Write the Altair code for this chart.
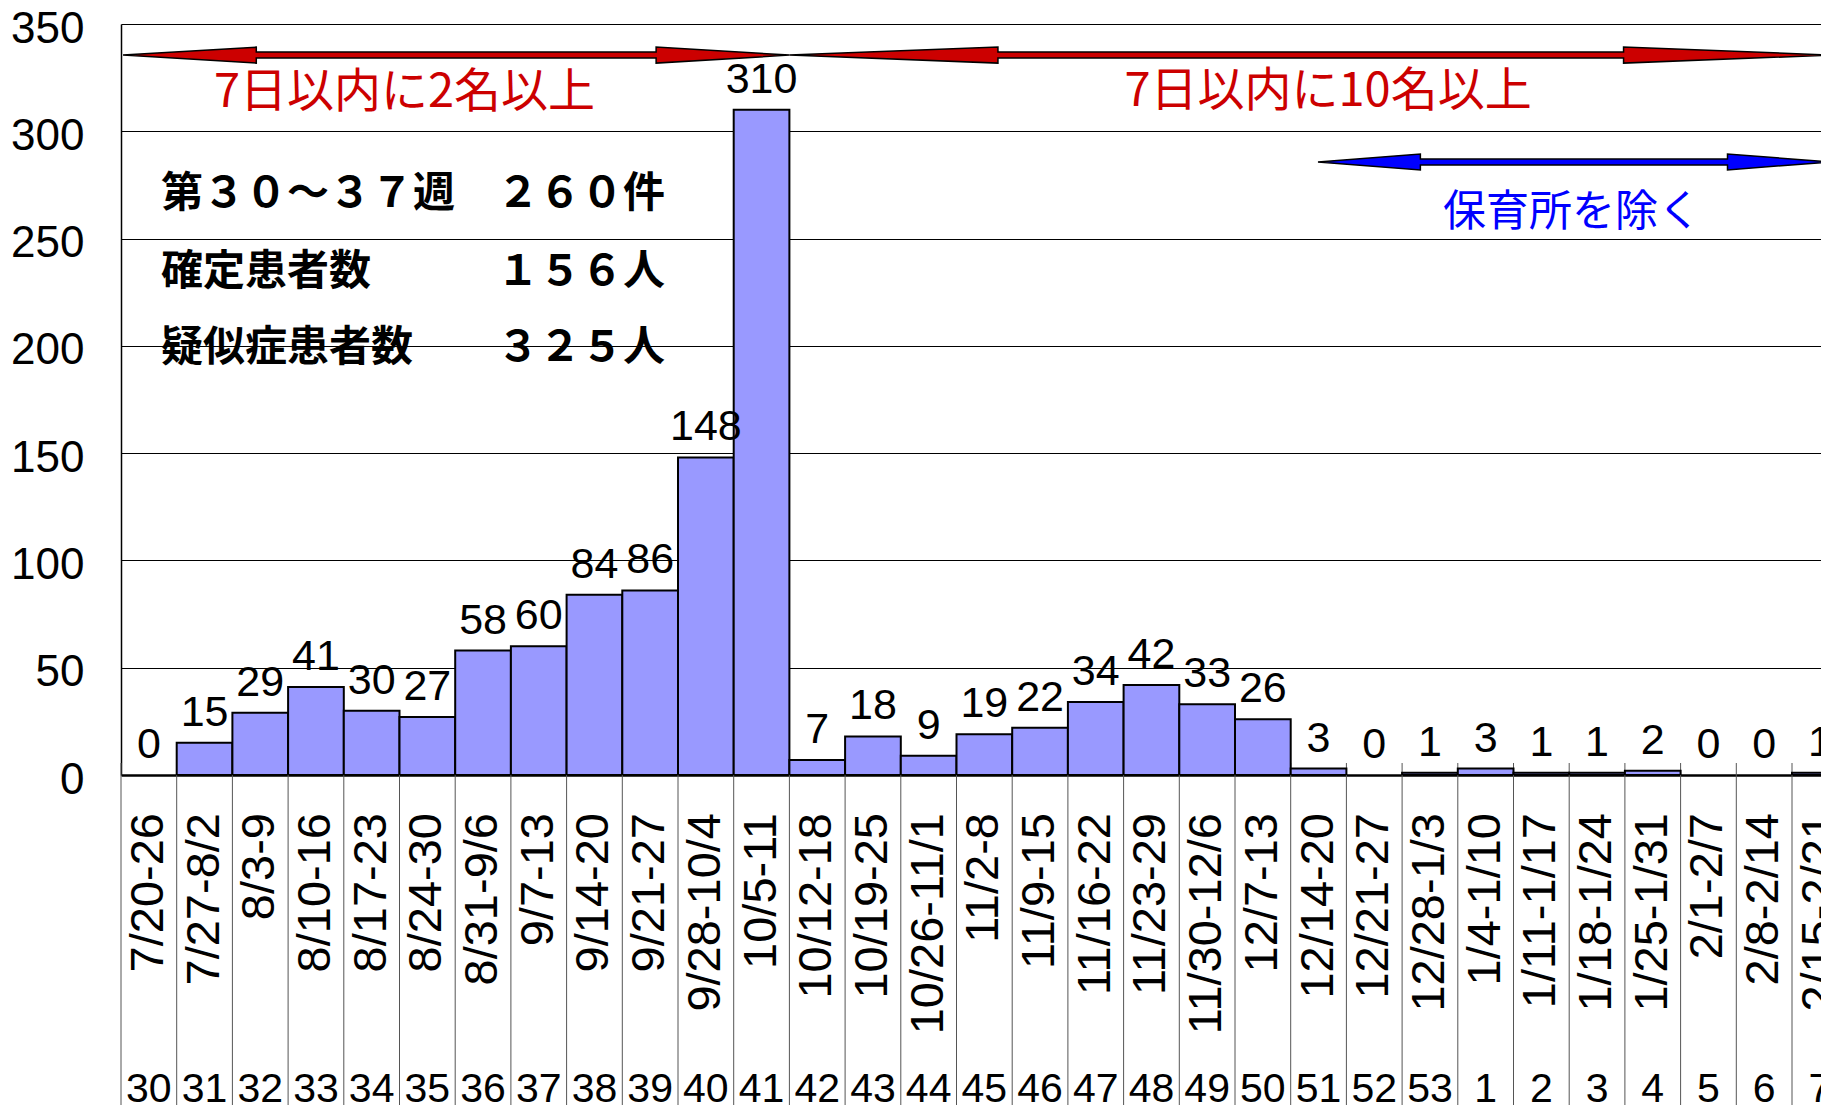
import altair as alt
import pandas as pd

# ---------------- data ----------------
weeks = [30, 31, 32, 33, 34, 35, 36, 37, 38, 39, 40, 41, 42, 43, 44, 45, 46, 47,
         48, 49, 50, 51, 52, 53, 1, 2, 3, 4, 5, 6, 7]
date_ranges = ["7/20-26", "7/27-8/2", "8/3-9", "8/10-16", "8/17-23", "8/24-30",
               "8/31-9/6", "9/7-13", "9/14-20", "9/21-27", "9/28-10/4", "10/5-11",
               "10/12-18", "10/19-25", "10/26-11/1", "11/2-8", "11/9-15", "11/16-22",
               "11/23-29", "11/30-12/6", "12/7-13", "12/14-20", "12/21-27", "12/28-1/3",
               "1/4-1/10", "1/11-1/17", "1/18-1/24", "1/25-1/31", "2/1-2/7", "2/8-2/14",
               "2/15-2/21"]
cases = [0, 15, 29, 41, 30, 27, 58, 60, 84, 86, 148, 310, 7, 18, 9, 19, 22, 34, 42,
         33, 26, 3, 0, 1, 3, 1, 1, 2, 0, 0, 1]
y_ticks = [0, 50, 100, 150, 200, 250, 300, 350]

legend_lines = ["第３０～３７週　２６０件", "確定患者数　　　１５６人", "疑似症患者数　　３２５人"]
red_notes = ["7日以内に2名以上", "7日以内に10名以上"]
blue_notes = ["保育所を除く"]

# ---------------- layout ----------------
PAD_L, PAD_T = 113, 16
CANVAS_W, CANVAS_H = 1813, 1097
W = CANVAS_W - PAD_L
H = 751
BAND = 55.7
X_MAX = W / BAND

n = len(weeks)
df = pd.DataFrame({
    "i": list(range(n)),
    "week": [str(w) for w in weeks],
    "dates": date_ranges,
    "cases": cases,
})
df["x0"] = df["i"]
df["x1"] = df["i"] + 1
df["xc"] = df["i"] + 0.5

sep_df = pd.DataFrame({"b": list(range(n + 1))})

xs = alt.Scale(domain=[0, X_MAX], nice=False, zero=False)
ys = alt.Scale(domain=[0, 350], nice=False, zero=True)

xaxis = alt.Axis(domain=True, domainColor="black", domainWidth=2.5, labels=False,
                 ticks=False, grid=False, title=None)
yaxis = alt.Axis(values=y_ticks, title=None, grid=True, gridColor="black", gridWidth=1,
                 gridOpacity=1, domain=True, domainColor="black", domainWidth=1.5,
                 ticks=False, labelFont="Liberation Sans", labelFontSize=44,
                 labelColor="black", labelPadding=37, labelOffset=5,
                 labelBaseline="middle")


def X(field):
    return alt.X(field, type="quantitative", scale=xs, axis=xaxis)


def Y(field):
    return alt.Y(field, type="quantitative", scale=ys, axis=yaxis, stack=None)


base = alt.Chart(df)

separators = alt.Chart(sep_df).mark_rule(color="#555555", strokeWidth=1).encode(
    x=X("b"), y=alt.value(H - 12), y2=alt.value(H + 360)
)

bars = base.transform_filter("datum.cases > 0").mark_bar(
    fill="#9999FF", stroke="black", strokeWidth=2, clip=True
).encode(x=X("x0"), x2="x1:Q", y=Y("cases"), y2=alt.datum(0))

bar_labels = base.mark_text(
    font="Liberation Sans", fontSize=43, baseline="alphabetic", dy=-17, color="black"
).encode(x=X("xc"), y=Y("cases"), text="cases:Q")

date_labels = base.mark_text(
    font="Liberation Sans", fontSize=47, angle=270, align="right",
    baseline="middle", color="black"
).encode(x=X("xc"), y=alt.value(789), text="dates:N")

week_labels = base.mark_text(
    font="Liberation Sans", fontSize=41, baseline="alphabetic", color="black"
).encode(x=X("xc"), y=alt.value(1078), text="week:N")


# ---------------- arrows ----------------
def arrow_path(length_px, head_frac=0.2, head_h=8.0, shaft_h=3.0):
    half = length_px / 2.0
    hx = 1 - 2 * head_frac
    hh = head_h / half
    sh = shaft_h / half
    f = lambda v: f"{v:.5f}"
    return (f"M-1,0L{f(-hx)},{f(-hh)}L{f(-hx)},{f(-sh)}L{f(hx)},{f(-sh)}"
            f"L{f(hx)},{f(-hh)}L1,0L{f(hx)},{f(hh)}L{f(hx)},{f(sh)}"
            f"L{f(-hx)},{f(sh)}L{f(-hx)},{f(hh)}Z")


arrow_start = [0.036, 12.0, 21.49]
arrow_end = [12.0, 30.72, 30.68]
arrow_y = [335.5, 335.5, 285.7]
arrow_col = ["#CC0000", "#CC0000", "#0000FF"]
arr = pd.DataFrame({"s": arrow_start, "e": arrow_end, "y": arrow_y, "col": arrow_col})
arr["xc"] = (arr["s"] + arr["e"]) / 2
arr["len"] = (arr["e"] - arr["s"]) * BAND
arr["size"] = arr["len"] ** 2
arr["path"] = [arrow_path(L) for L in arr["len"]]

arrows = alt.Chart(arr).mark_point(
    filled=True, stroke="black", strokeWidth=1.5, opacity=1, clip=True
).encode(
    x=X("xc"), y=Y("y"),
    shape=alt.Shape("path:N", scale=None),
    size=alt.Size("size:Q", scale=None),
    fill=alt.Fill("col:N", scale=None),
)

# ---------------- annotation texts ----------------
leg_df = pd.DataFrame({"t": legend_lines, "x": [0.72] * 3, "y": [270.8, 234.4, 199.0]})
legend = alt.Chart(leg_df).mark_text(
    font="Noto Sans CJK JP", fontWeight="bold", fontSize=42, align="left",
    baseline="middle", color="black"
).encode(x=X("x"), y=Y("y"), text="t:N")

red_df = pd.DataFrame({"t": red_notes, "x": [5.09, 21.67], "y": [317.8, 318.3]})
red_text = alt.Chart(red_df).mark_text(
    font="Noto Sans CJK JP", fontSize=47, align="center", baseline="middle",
    color="#CC0000"
).encode(x=X("x"), y=Y("y"), text="t:N")

blue_df = pd.DataFrame({"t": blue_notes, "x": [26.05], "y": [261.9]})
blue_text = alt.Chart(blue_df).mark_text(
    font="Noto Sans CJK JP", fontSize=43, align="center", baseline="middle",
    color="#0000FF"
).encode(x=X("x"), y=Y("y"), text="t:N")

chart = alt.layer(
    separators, bars, bar_labels, date_labels, week_labels, arrows,
    legend, red_text, blue_text
).properties(
    width=W, height=H,
    autosize=alt.AutoSizeParams(type="none"),
    padding={"left": PAD_L, "top": PAD_T, "right": 0, "bottom": CANVAS_H - PAD_T - H},
    background="white",
).configure_view(stroke=None)

chart.save("out.html", embed_options={"renderer": "svg", "actions": False})
